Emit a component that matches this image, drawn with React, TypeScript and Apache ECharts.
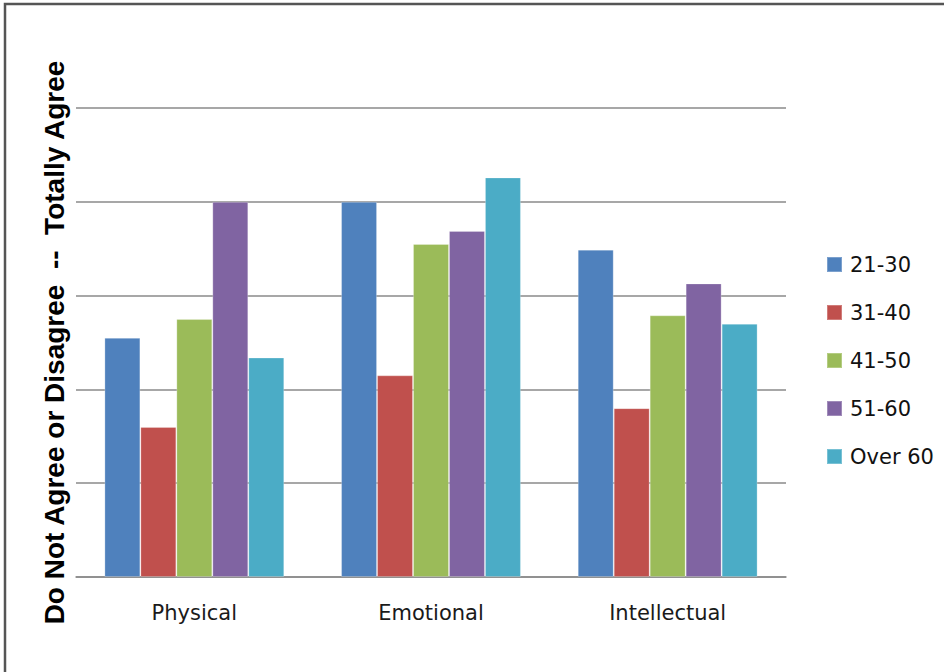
import React, { useEffect, useRef } from "react";
import * as echarts from "echarts";

// Survey categories and age groups
const categories = ["Physical", "Emotional", "Intellectual"];
const ageGroups = ["21-30", "31-40", "41-50", "51-60", "Over 60"];

// Agreement score per age group (0 = do not agree, 5 = totally agree)
const age21to30 = [2.55, 4.0, 3.49];
const age31to40 = [1.6, 2.15, 1.8];
const age41to50 = [2.75, 3.55, 2.79];
const age51to60 = [4.0, 3.69, 3.13];
const ageOver60 = [2.34, 4.26, 2.7];

const seriesValues = [age21to30, age31to40, age41to50, age51to60, ageOver60];
const seriesColors = ["#4F81BD", "#C0504D", "#9BBB59", "#8064A2", "#4BACC6"];

const yTitle = "Do Not Agree or Disagree  --  Totally Agree";

export default function App() {
  const ref = useRef<HTMLDivElement>(null);

  useEffect(() => {
    if (!ref.current) return;
    const chart = echarts.init(ref.current, null, { renderer: "svg" });
    chart.setOption({
      animation: false,
      backgroundColor: "#ffffff",
      grid: { left: 76, right: 158, top: 108, bottom: 95, containLabel: false },
      graphic: [
        {
          type: "rect",
          shape: { x: 5, y: 4, width: 1000, height: 800 },
          style: { fill: "none", stroke: "#555555", lineWidth: 2.5 },
          silent: true,
        },
      ],
      legend: {
        orient: "vertical",
        left: 826,
        top: 254,
        padding: 0,
        icon: "rect",
        itemWidth: 15,
        itemHeight: 15,
        itemGap: 27,
        data: ageGroups,
        textStyle: {
          fontFamily: "DejaVu Sans",
          fontSize: 21,
          lineHeight: 21,
          color: "#111111",
          padding: [0, 0, 0, 3],
        },
      },
      xAxis: {
        type: "category",
        data: categories,
        axisLine: { lineStyle: { color: "#8a8a8a", width: 1.5 } },
        axisTick: { length: 8, lineStyle: { color: "#8a8a8a", width: 1.5 } },
        axisLabel: {
          fontFamily: "DejaVu Sans",
          fontSize: 21,
          color: "#1a1a1a",
          margin: 25,
        },
      },
      yAxis: {
        type: "value",
        min: 0,
        max: 5,
        interval: 1,
        name: yTitle,
        nameLocation: "middle",
        nameRotate: 90,
        nameGap: 8,
        nameTextStyle: {
          fontFamily: "Liberation Sans",
          fontWeight: "bold",
          fontSize: 28,
          color: "#000000",
        },
        axisLine: { show: false },
        axisTick: { show: false },
        axisLabel: { show: false },
        splitLine: { lineStyle: { color: "#8a8a8a", width: 1.5 } },
      },
      series: ageGroups.map((name, i) => ({
        name,
        type: "bar",
        data: seriesValues[i],
        barGap: "0%",
        barCategoryGap: "24%",
        itemStyle: {
          color: seriesColors[i],
          borderColor: "rgba(255,255,255,0.25)",
          borderWidth: 1,
        },
      })),
    });
    return () => chart.dispose();
  }, []);

  return (
    <div
      ref={ref}
      style={{ position: "fixed", left: 0, top: 0, width: 944, height: 672 }}
    />
  );
}
